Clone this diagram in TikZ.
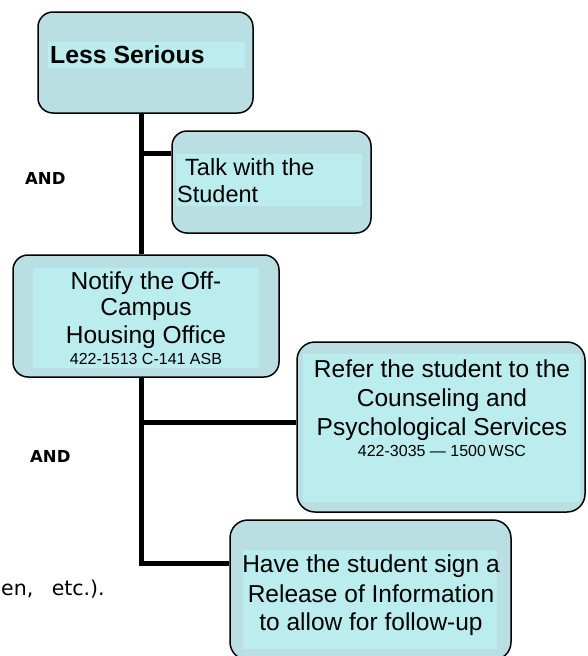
\documentclass[tikz,border=0pt]{standalone}
\usepackage{fontspec}
\setmainfont{Liberation Sans}
\newfontfamily\dejavu{DejaVu Sans}
\definecolor{boxfill}{RGB}{185,223,227}
\definecolor{innerfill}{RGB}{187,237,238}
\tikzset{
  box/.style={draw=black, line width=1.5pt, fill=boxfill, rounded corners=#1, inner sep=0pt},
  box/.default=15pt,
  innerbox/.style={fill=innerfill, draw=none},
  conn/.style={line width=5pt, line cap=butt},
  big/.style={font=\fontsize{24.5}{27}\selectfont, anchor=base, inner sep=0pt},
  small/.style={font=\fontsize{16}{18}\selectfont, anchor=base, inner sep=0pt},
  andlabel/.style={font=\dejavu\bfseries\fontsize{16.5}{18}\selectfont, anchor=base west, inner sep=0pt},
}
\begin{document}
\begin{tikzpicture}[x=1pt,y=-1pt]
\useasboundingbox (0,0) rectangle (588,656);
\begin{scope}
\clip (0,0) rectangle (588,656);
% spine coordinate
\coordinate (spine) at (141,0);
% boxes
\node[box, minimum width=215pt, minimum height=101pt] (b1) at (145.5,62.5) {};
\fill[innerfill] (48,42) rectangle (245,68);
\node[font=\bfseries\fontsize{24.8}{27}\selectfont, anchor=base west, inner sep=0pt] (t1) at (50,63) {Less Serious};

\node[box, minimum width=199pt, minimum height=102pt] (b2) at (271.5,182) {};
\fill[innerfill] (176,154) rectangle (362,206);
\node[font=\fontsize{23.5}{27}\selectfont, anchor=base west, inner sep=0pt] (t2a) at (185,175) {Talk with the};
\node[font=\fontsize{23.5}{27}\selectfont, anchor=base west, inner sep=0pt] (t2b) at (177,202) {Student};

\node[box, minimum width=266pt, minimum height=122pt] (b3) at (146,316) {};
\fill[innerfill] (33,268) rectangle (259,368);
\node[big] (t3a) at (146,289) {Notify the Off-};
\node[big] (t3b) at (146,315) {Campus};
\node[big] (t3c) at (146,343) {Housing Office};
\node[small] (t3d) at (146,364) {422-1513 C-141 ASB};

\node[box=18pt, minimum width=288pt, minimum height=170pt] (b4) at (441,427) {};
\fill[innerfill] (303,354) rectangle (580,502);
\node[big] (t4a) at (442,377) {Refer the student to the};
\node[big] (t4b) at (442,406) {Counseling and};
\node[big] (t4c) at (442,435) {Psychological Services};
\node[small] (t4d) at (442,456) {422-3035 — 1500\,WSC};

\node[box=18pt, minimum width=281pt, minimum height=140pt] (b5) at (370.5,590) {};
\fill[innerfill] (243,550) rectangle (497,649);
\node[big] (t5a) at (371,572) {Have the student sign a};
\node[big] (t5b) at (371,602) {Release of Information};
\node[big] (t5c) at (371,630) {to allow for follow-up};

% connectors
\coordinate (j1) at (141,153);
\coordinate (j2) at (141,422);
\coordinate (j3) at (141,563);
\draw[conn] (b1.south -| spine) -- (b3.north -| spine);
\draw[conn] (j1) -- (j1 -| b2.west);
\draw[conn] ([yshift=0.75pt]b3.south -| spine) -- (j3) -- (j3 -| b5.west);
\draw[conn] (j2) -- (j2 -| b4.west);

% labels
\node[andlabel] (and1) at (25,184) {AND};
\node[andlabel] (and2) at (30,462) {AND};
\node[font=\dejavu\fontsize{20.5}{24}\selectfont, anchor=base west, inner sep=0pt] (frag) at (1,595) {en,\hspace{0.9em}etc.).};
\end{scope}
\end{tikzpicture}
\end{document}
